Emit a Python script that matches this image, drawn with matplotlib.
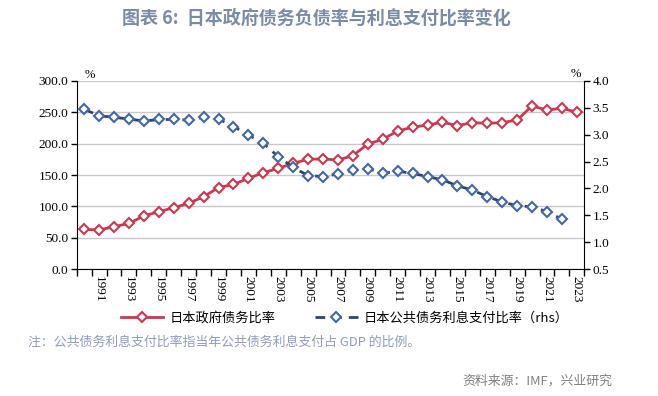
import numpy as np
import matplotlib
matplotlib.use("Agg")
import matplotlib.pyplot as plt
from matplotlib.ticker import FormatStrFormatter

plt.rcParams['font.family'] = ['Noto Sans CJK SC', 'DejaVu Sans']

# data
years = list(range(1990, 2024))
debt_ratio = [63.6, 62.5, 67.8, 73.0, 85.0, 91.6, 98.0, 105.0, 115.5, 130.0,
              135.0, 144.7, 153.7, 160.6, 168.6, 175.0, 175.5, 173.9, 180.8, 199.3,
              206.8, 220.0, 225.9, 229.6, 233.9, 228.5, 233.3, 232.2, 233.3, 237.5,
              259.8, 253.4, 256.1, 249.8]
interest_ratio = [3.47, 3.35, 3.32, 3.29, 3.25, 3.28, 3.28, 3.27, 3.32, 3.29,
                  3.15, 2.99, 2.84, 2.59, 2.39, 2.24, 2.22, 2.27, 2.34, 2.37,
                  2.28, 2.32, 2.28, 2.22, 2.16, 2.05, 1.97, 1.85, 1.75, 1.68,
                  1.66, 1.57, 1.43, np.nan]
tick_years = [y for y in years if y % 2 == 1]

red = '#C93A50'
navy = '#2E4468'
mk_blue = '#41699E'
serif = 'Liberation Serif'

fig = plt.figure(figsize=(6.58, 3.96), dpi=100)
ax = fig.add_axes([76.7/658, 1-269.3/396, (584.3-76.7)/658, (269.3-80.7)/396])
ax2 = ax.twinx()

x = np.arange(len(years))
ax2.plot(x, interest_ratio, color=navy, lw=2, ls=(0, (3.5, 2.5)), marker='D', ms=5,
         mfc='white', mec=mk_blue, mew=1.5, label='日本公共债务利息支付比率（rhs）')
ax.plot(x, debt_ratio, color=red, lw=2, marker='D', ms=5, mfc='white', mec=red,
        mew=1.5, label='日本政府债务比率', zorder=3)

ax.set_xlim(-0.5, len(years) - 0.5)
ax.set_ylim(0, 300)
ax.set_yticks(np.arange(0, 301, 50))
ax2.set_ylim(0.5, 4.0)
ax2.set_yticks(np.arange(0.5, 4.01, 0.5))
ax.yaxis.set_major_formatter(FormatStrFormatter('%.1f'))
ax2.yaxis.set_major_formatter(FormatStrFormatter('%.1f'))

ax.set_xticks([years.index(y) for y in tick_years])
ax.set_xticklabels([str(y) for y in tick_years], rotation=270, family=serif, fontsize=9.5)
ax.set_xticks(np.arange(-0.5, len(years), 1), minor=True)
ax.tick_params(axis='x', which='major', length=0, pad=5)
ax.tick_params(axis='x', which='minor', length=5, width=1, color='black')
ax.tick_params(axis='y', length=4, width=1, pad=2, labelsize=9.5)
ax2.tick_params(axis='y', length=4, width=1, pad=2, labelsize=9.5)
for lab in ax.get_yticklabels() + ax2.get_yticklabels():
    lab.set_family(serif)

ax.yaxis.grid(True, color='#C8C8C8', lw=1)
ax.set_axisbelow(True)
for a in (ax, ax2):
    a.spines['top'].set_visible(False)
ax2.spines['left'].set_visible(False)
ax2.spines['bottom'].set_visible(False)
ax.spines['right'].set_visible(False)

ax.text(0.4, 299, '%', fontsize=9, family=serif, va='bottom', ha='center')
ax2.text(32.9, 4.02, '%', fontsize=9, family=serif, va='bottom', ha='center')

h1, l1 = ax.get_legend_handles_labels()
h2, l2 = ax2.get_legend_handles_labels()
fig.legend(h1 + h2, l1 + l2, loc='center', bbox_to_anchor=(345/658, 1-318/396),
           ncol=2, frameon=False, fontsize=9.5, handlelength=3.2, columnspacing=3.0,
           handletextpad=0.5)

fig.text(316/658, 1-18/396, '图表 6:  日本政府债务负债率与利息支付比率变化', ha='center',
         va='center', fontsize=13, fontweight='bold', color='#7A8BA5')
fig.text(28/658, 1-342/396, '注：公共债务利息支付比率指当年公共债务利息支付占 GDP 的比例。',
         ha='left', va='center', fontsize=9.3, color='#8C9DBA')
fig.text(612/658, 1-381/396, '资料来源：IMF，兴业研究', ha='right', va='center',
         fontsize=9.3, color='#808080')

fig.savefig('out.png', dpi=100)
